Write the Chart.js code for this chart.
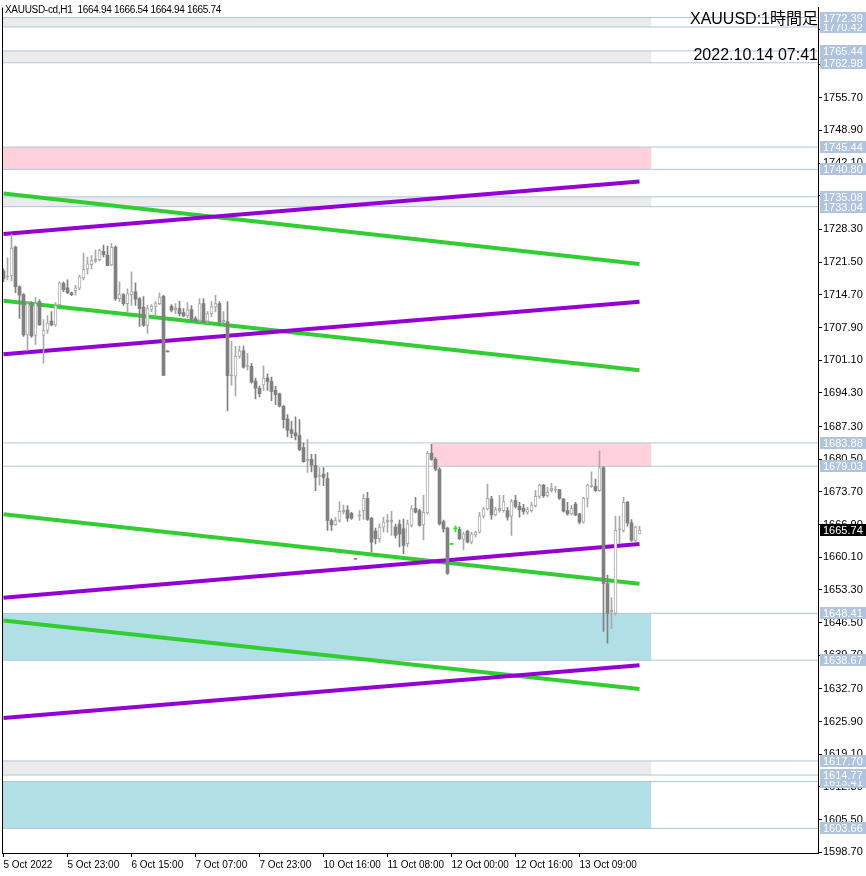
<!DOCTYPE html>
<html><head><meta charset="utf-8">
<script src="https://cdn.jsdelivr.net/npm/chart.js@4.4.1/dist/chart.umd.min.js"></script>
<style>
html,body{margin:0;padding:0;background:#fff;}
#wrap{position:relative;width:866px;height:876px;overflow:hidden;}
canvas{display:block;}
.t{position:absolute;font-family:"Liberation Sans",Arial,sans-serif;color:#000;white-space:pre;line-height:1;}
</style></head><body>
<div id="wrap"><canvas id="c" width="866" height="876"></canvas>
<div class="t" style="left:5px;top:5px;font-size:10px;letter-spacing:-0.3px;">XAUUSD-cd,H1  1664.94 1666.54 1664.94 1665.74</div>
<div class="t" style="right:48px;top:11px;font-size:16px;font-family:'Liberation Sans','Noto Sans CJK JP',sans-serif;">XAUUSD:1時間足</div>
<div class="t" style="right:48px;top:47px;font-size:16px;">2022.10.14 07:41</div>
</div>
<script>
// ---- data ----
const opens = [
1719.68,1718.44,1718.65,1724.64,1716.37,1714.72,1706.35,1712.45,1706.25,1713.27,
1706.25,1707.28,1709.24,1708.42,1712.65,1717.10,1716.17,1715.13,1715.55,1716.06,
1718.23,1720.09,1720.98,1721.64,1722.02,1723.75,1722.99,1720.92,1724.64,1713.89,
1714.72,1712.86,1714.72,1715.34,1713.89,1712.14,1708.31,1711.68,1712.30,1712.86,
1714.37,1702.94,1712.30,1711.48,1711.83,1711.00,1710.32,1711.62,1709.76,1709.41,
1712.86,1709.20,1710.79,1712.18,1712.86,1709.08,1709.14,1697.83,1697.77,1701.90,
1703.04,1699.78,1699.84,1696.74,1695.29,1695.97,1697.36,1696.67,1694.81,1694.11,
1691.51,1688.88,1686.67,1685.99,1685.43,1682.89,1680.14,1680.47,1679.23,1676.89,
1677.37,1676.48,1667.74,1666.83,1667.74,1669.45,1669.93,1669.25,1659.80,1668.63,
1669.80,1672.35,1668.21,1665.53,1663.93,1666.35,1667.39,1667.39,1666.35,1666.97,
1666.00,1662.90,1666.70,1670.28,1669.80,1666.83,1669.31,1681.71,1680.47,1678.40,
1667.53,1666.15,1662.78,1666.00,1665.88,1663.81,1665.46,1663.25,1664.76,1665.32,
1668.63,1670.14,1672.20,1668.90,1669.80,1669.80,1669.80,1668.63,1671.87,1670.69,
1670.28,1669.45,1669.80,1670.84,1672.76,1675.10,1672.90,1673.94,1674.08,1674.15,
1672.20,1669.80,1669.10,1671.17,1669.10,1667.39,1672.35,1674.77,1674.83,1673.94,
1678.75,1654.63,1648.64,1648.43,1665.79,1665.67,1671.52,1667.24,1663.60,1664.94];
const highs = [
1720.09,1722.37,1727.33,1724.85,1716.58,1714.93,1713.27,1713.27,1714.10,1713.69,
1709.55,1710.38,1711.21,1713.07,1717.47,1717.41,1717.82,1715.24,1716.68,1718.75,
1723.40,1722.57,1722.84,1724.02,1724.23,1725.06,1724.85,1725.41,1724.91,1717.41,
1714.93,1715.96,1719.47,1717.20,1714.10,1714.31,1712.51,1712.65,1713.27,1715.13,
1714.58,1702.94,1712.65,1712.86,1713.33,1711.83,1713.07,1712.45,1710.17,1713.89,
1713.89,1711.21,1713.27,1714.58,1713.27,1711.21,1713.27,1705.01,1703.97,1704.03,
1704.03,1702.52,1700.46,1697.36,1695.70,1699.90,1698.25,1697.56,1695.64,1694.26,
1691.63,1689.77,1688.41,1689.30,1688.74,1683.92,1684.60,1681.50,1681.50,1678.75,
1678.75,1677.72,1668.07,1668.42,1671.66,1670.96,1670.84,1669.45,1659.80,1669.80,
1673.23,1673.59,1668.42,1666.15,1666.97,1668.42,1669.04,1669.66,1666.97,1667.80,
1668.01,1667.80,1670.84,1672.55,1670.07,1672.97,1682.06,1683.57,1680.82,1678.75,
1667.80,1666.35,1662.78,1666.56,1666.35,1665.32,1665.73,1665.32,1665.53,1669.45,
1670.49,1675.30,1672.76,1670.49,1672.97,1672.97,1670.49,1672.14,1672.97,1671.52,
1671.11,1670.49,1671.52,1674.00,1675.34,1675.24,1674.62,1675.45,1674.83,1674.21,
1672.35,1671.52,1670.90,1671.52,1669.25,1672.55,1675.30,1677.86,1676.34,1682.21,
1678.96,1656.37,1651.68,1668.63,1668.63,1672.55,1671.73,1667.94,1666.56,1666.54];
const lows = [
1717.41,1717.82,1717.61,1715.13,1709.76,1706.04,1703.15,1705.83,1704.39,1708.31,
1700.46,1706.66,1708.21,1708.11,1712.45,1715.34,1714.93,1714.51,1714.62,1715.75,
1717.82,1719.06,1720.09,1721.44,1721.75,1722.57,1720.71,1720.71,1713.54,1713.27,
1712.51,1711.21,1712.51,1712.51,1708.11,1708.11,1706.66,1711.21,1710.17,1712.65,
1697.90,1702.81,1711.14,1710.79,1710.32,1710.17,1709.90,1709.14,1709.14,1709.08,
1708.73,1708.73,1710.17,1711.14,1708.31,1708.73,1690.54,1695.91,1693.64,1701.49,
1699.42,1699.07,1696.32,1693.02,1693.43,1694.81,1694.81,1692.67,1691.84,1691.36,
1687.02,1685.16,1684.96,1684.48,1682.27,1679.85,1677.72,1677.86,1673.94,1675.10,
1674.97,1665.67,1665.67,1666.70,1667.39,1669.04,1667.53,1667.94,1659.68,1667.74,
1667.94,1667.74,1661.18,1662.84,1663.25,1665.32,1665.32,1664.64,1664.08,1662.22,
1660.83,1662.22,1666.35,1669.25,1666.56,1663.67,1669.04,1680.30,1678.13,1666.77,
1665.32,1656.53,1662.78,1665.42,1663.77,1661.60,1663.05,1662.84,1664.29,1665.11,
1668.21,1669.87,1668.01,1668.63,1669.45,1669.45,1667.80,1664.64,1670.28,1668.42,
1669.04,1669.04,1669.45,1670.49,1672.35,1672.55,1672.66,1673.69,1673.59,1672.14,
1669.45,1668.83,1668.83,1668.73,1667.03,1667.18,1670.49,1674.62,1673.79,1673.79,
1644.65,1642.23,1645.21,1648.10,1662.90,1665.32,1666.56,1663.40,1663.25,1664.94];
const closes = [
1718.03,1718.54,1724.44,1716.37,1714.62,1706.35,1712.86,1706.14,1712.86,1708.42,
1707.28,1708.83,1708.42,1712.45,1717.20,1715.75,1715.13,1714.72,1716.17,1718.44,
1719.99,1721.13,1721.81,1722.16,1723.88,1723.05,1720.78,1724.58,1713.89,1714.72,
1712.86,1714.93,1715.34,1713.79,1711.83,1708.31,1711.83,1712.30,1712.86,1714.24,
1697.95,1702.81,1711.48,1711.97,1710.79,1710.32,1711.62,1709.61,1709.20,1712.86,
1708.93,1710.79,1712.18,1712.86,1709.08,1709.41,1697.87,1698.04,1701.90,1703.04,
1699.63,1699.90,1696.53,1695.29,1694.11,1697.36,1696.67,1694.61,1693.91,1691.51,
1688.74,1686.55,1685.84,1685.31,1682.54,1679.99,1680.47,1679.23,1676.69,1677.16,
1676.69,1667.74,1666.83,1667.74,1669.66,1669.93,1668.21,1668.21,1659.68,1668.90,
1672.35,1667.94,1663.25,1663.98,1666.35,1667.39,1667.80,1667.80,1664.64,1664.91,
1662.57,1667.03,1670.14,1669.45,1666.70,1669.45,1681.71,1680.47,1678.40,1667.03,
1666.00,1656.70,1662.78,1666.00,1663.93,1664.97,1663.25,1664.97,1665.32,1668.63,
1670.14,1672.35,1668.90,1670.01,1670.28,1671.66,1668.42,1671.66,1670.69,1670.01,
1669.60,1670.01,1670.96,1672.76,1675.10,1672.90,1673.59,1674.41,1674.15,1672.35,
1669.66,1669.10,1670.28,1668.90,1667.39,1672.35,1675.10,1674.89,1673.94,1678.75,
1654.63,1648.43,1649.13,1665.67,1665.94,1671.52,1667.24,1663.60,1666.35,1665.74];

const timeTickBars = [0,16,32,48,64,80,96,112,128,144];
const timeTickLabels = ['5 Oct 2022','5 Oct 23:00','6 Oct 15:00','7 Oct 07:00','7 Oct 23:00','10 Oct 16:00','11 Oct 08:00','12 Oct 00:00','12 Oct 16:00','13 Oct 09:00'];
const priceTicks = [1598.70,1605.50,1612.30,1619.10,1625.90,1632.70,1639.70,1646.50,1653.30,1660.10,1666.90,1673.70,1680.50,1687.30,1694.30,1701.10,1707.90,1714.70,1721.50,1728.30,1735.30,1742.10,1748.90,1755.70,1762.70,1769.90];

// trend lines: [startBar, startPrice, endBar, endPrice]
const greenLines = [[0,1735.80,159,1721.13],[0,1713.48,159,1699.01],[0,1669.04,159,1654.57],[0,1646.92,159,1632.66]];
const purpleLines = [[0,1727.33,159,1738.28],[0,1702.32,159,1713.27],[0,1651.68,159,1662.84],[0,1626.66,159,1637.62]];

// zones
const zoneTops    = [1772.39,1765.44,1745.44,1735.08,1683.88,1648.41,1617.70,1613.41];
const zoneBottoms = [1770.42,1762.98,1740.80,1733.04,1679.03,1638.67,1614.77,1603.66];
const zoneKinds   = ['grey','grey','pink','grey','pink','cyan','grey','cyan'];
const zoneStartBars = [-40,-40,-40,-40,107,-40,-40,-40];
const zoneEndBar = 162;
const lastPrice = 1665.74;

// ---- style ----
const BULL = '#a9a9a9', BEAR = '#808080', DOJI = '#00ff00';
const ZONE_COLORS = {grey:'#ebebeb', pink:'#ffd1dc', cyan:'#b0e0e6'};
const LEVEL = '#b0c4de';
const FONT = '"Liberation Sans", Arial, sans-serif';

const idx = opens.map((_, i) => i);
const candleColor = i => opens[i] === closes[i] ? DOJI : (closes[i] > opens[i] ? BULL : BEAR);

const datasets = [];
datasets.push({
  type:'bar', label:'bodies', order:0, grouped:false,
  data: idx.map(i => ({x:i, y:[opens[i], closes[i]]})),
  barPercentage:1, categoryPercentage:1, maxBarThickness:3, minBarLength:1,
  borderSkipped:false,
  borderColor: idx.map(candleColor),
  borderWidth: idx.map(i => closes[i] > opens[i] ? 1 : 0),
  backgroundColor: ctx => {
    const i = ctx.dataIndex;
    if (i === undefined) return BEAR;
    if (opens[i] === closes[i]) return DOJI;
    if (closes[i] < opens[i]) return BEAR;
    const ys = ctx.chart.scales && ctx.chart.scales.y;
    if (!ys || !ys.height) return '#ffffff';
    const h = Math.abs(ys.getPixelForValue(opens[i]) - ys.getPixelForValue(closes[i]));
    return h < 2.5 ? BULL : '#ffffff';
  }
});
datasets.push({
  type:'bar', label:'wicks', order:1, grouped:false,
  data: idx.map(i => ({x:i, y:[lows[i], highs[i]]})),
  barPercentage:1, categoryPercentage:1, maxBarThickness:1, minBarLength:1,
  borderWidth:0, backgroundColor: idx.map(candleColor)
});
purpleLines.forEach(l => datasets.push({
  type:'line', order:2, data:[{x:l[0],y:l[1]},{x:l[2],y:l[3]}],
  borderColor:'#9400d3', borderWidth:4, pointRadius:0, fill:false, borderCapStyle:'butt'
}));
greenLines.forEach(l => datasets.push({
  type:'line', order:3, data:[{x:l[0],y:l[1]},{x:l[2],y:l[3]}],
  borderColor:'#32cd32', borderWidth:4, pointRadius:0, fill:false, borderCapStyle:'butt'
}));
const levelValues = [];
zoneTops.forEach((t, k) => { levelValues.push(t, zoneBottoms[k]); });
levelValues.forEach(v => datasets.push({
  type:'line', order:4, data:[{x:-40,y:v},{x:260,y:v}],
  borderColor:LEVEL, borderWidth:1, pointRadius:0, fill:false
}));
zoneTops.forEach((t, k) => datasets.push({
  type:'line', order:5, data:[{x:zoneStartBars[k],y:t},{x:zoneEndBar,y:t}],
  borderColor:'rgba(0,0,0,0)', borderWidth:1, pointRadius:0,
  fill:{value:zoneBottoms[k]}, backgroundColor:ZONE_COLORS[zoneKinds[k]]
}));

const framePlugin = {
  id:'frame',
  afterDatasetsDraw(chart){
    const {ctx, chartArea:a} = chart;
    ctx.save();
    ctx.fillStyle = '#000';
    ctx.fillRect(a.left, a.top, 1, a.bottom - a.top);
    ctx.restore();
  }
};
const priceLabelPlugin = {
  id:'priceLabels',
  afterDraw(chart){
    const ctx = chart.ctx, ys = chart.scales.y, x0 = chart.chartArea.right + 2;
    ctx.save();
    ctx.font = '11px ' + FONT;
    ctx.textBaseline = 'middle';
    ctx.textAlign = 'left';
    levelValues.slice().reverse().forEach(v => {
      const y = Math.round(ys.getPixelForValue(v));
      ctx.fillStyle = LEVEL;
      ctx.fillRect(x0, y - 6, 46, 12);
      ctx.fillStyle = '#ffffff';
      ctx.fillText(v.toFixed(2), x0 + 3, y + 0.5);
    });
    const y = Math.round(ys.getPixelForValue(lastPrice));
    ctx.fillStyle = '#000';
    ctx.fillRect(x0, y - 6, 46, 12);
    ctx.fillStyle = '#fff';
    ctx.fillText(lastPrice.toFixed(2), x0 + 3, y + 0.5);
    ctx.restore();
  }
};

Chart.defaults.font.family = FONT;
Chart.defaults.font.size = 10;
Chart.defaults.color = '#000';

new Chart(document.getElementById('c'), {
  type:'bar',
  data:{datasets},
  options:{
    responsive:false, animation:false, devicePixelRatio:1,
    layout:{padding:{left:2, top:2, right:0, bottom:0}},
    plugins:{legend:{display:false}, tooltip:{enabled:false}},
    scales:{
      x:{
        type:'linear', position:'bottom', min:-0.375, max:203.625, offset:false,
        afterBuildTicks: s => { s.ticks = timeTickBars.map(v => ({value:v})); },
        afterFit: s => { s.height = 23; },
        ticks:{autoSkip:false, maxRotation:0, minRotation:0, align:'start', padding:2,
          font:{size:10}, color:'#000',
          callback: v => { const k = timeTickBars.indexOf(v); return k >= 0 ? timeTickLabels[k] : ''; }},
        grid:{offset:false, drawOnChartArea:false, drawTicks:true, tickLength:4, color:'#000'},
        border:{display:true, color:'#000'}
      },
      y:{
        type:'linear', position:'right', min:1598.55, max:1774.46, offset:false,
        afterBuildTicks: s => { s.ticks = priceTicks.map(v => ({value:v})); },
        afterFit: s => { s.width = 48; },
        ticks:{padding:1, font:{size:11}, color:'#000', callback: v => Number(v).toFixed(2)},
        grid:{drawOnChartArea:false, drawTicks:true, tickLength:4, color:'#000'},
        border:{display:true, color:'#000'}
      }
    }
  },
  plugins:[framePlugin, priceLabelPlugin]
});
</script>
</body></html>
